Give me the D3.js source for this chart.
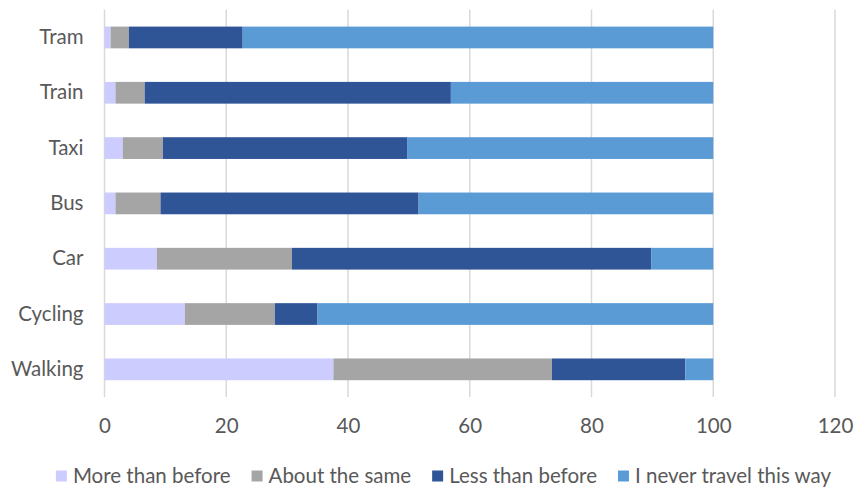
<!DOCTYPE html>
<html>
<head>
<meta charset="utf-8">
<script src="https://cdn.jsdelivr.net/npm/d3@7/dist/d3.min.js"></script>
<style>
  html, body { margin: 0; padding: 0; background: #fff; }
  svg { display: block; }
  text { font-family: Lato, "Noto Sans", sans-serif; fill: #595959; }
</style>
</head>
<body>
<svg id="chart" width="868" height="487"></svg>
<script>
// Travel modes, top to bottom
const categories = ["Tram", "Train", "Taxi", "Bus", "Car", "Cycling", "Walking"];
const seriesNames = ["More than before", "About the same", "Less than before", "I never travel this way"];
const seriesColors = ["#ccccff", "#a5a5a5", "#2f5597", "#5b9bd5"];

// Share of respondents (%) per mode, one array per answer
const moreThanBefore = [1, 1.8, 3, 1.8, 8.6, 13.2, 37.6];
const aboutTheSame   = [3, 4.8, 6.6, 7.4, 22.2, 14.8, 35.9];
const lessThanBefore = [18.7, 50.3, 40.1, 42.4, 59, 7, 21.9];
const neverTravel    = [77.3, 43.1, 50.3, 48.4, 10.2, 65, 4.6];

const xTicks = [0, 20, 40, 60, 80, 100, 120];

const seriesValues = [moreThanBefore, aboutTheSame, lessThanBefore, neverTravel];
const rows = categories.map((c, i) => {
  const r = { category: c };
  seriesNames.forEach((s, k) => { r[s] = seriesValues[k][i]; });
  return r;
});

const svg = d3.select("#chart");
const margin = { left: 104.5, right: 33, top: 9.8, bottom: 90 };
const W = 868, H = 487;
const fontSize = 20.5;

const x = d3.scaleLinear().domain([0, 120]).range([margin.left, W - margin.right]);
const y = d3.scaleBand().domain(categories).range([margin.top, H - margin.bottom]).paddingInner(0.607).paddingOuter(0.3035);

// vertical gridlines
svg.append("g")
  .selectAll("line")
  .data(xTicks)
  .join("line")
  .attr("x1", d => x(d)).attr("x2", d => x(d))
  .attr("y1", margin.top).attr("y2", H - margin.bottom)
  .attr("stroke", "#d9d9d9")
  .attr("stroke-width", 1.5);

// stacked bars
const stacked = d3.stack().keys(seriesNames)(rows);
svg.append("g")
  .selectAll("g")
  .data(stacked)
  .join("g")
  .attr("fill", (d, i) => seriesColors[i])
  .selectAll("rect")
  .data(d => d)
  .join("rect")
  .attr("x", d => x(d[0]))
  .attr("width", d => x(d[1]) - x(d[0]))
  .attr("y", d => y(d.data.category))
  .attr("height", y.bandwidth());

// x axis labels
const xAxis = d3.axisBottom(x).tickValues(xTicks).tickSize(0).tickPadding(0);
const gx = svg.append("g")
  .attr("transform", `translate(0,${H - margin.bottom + 21})`)
  .call(xAxis);
gx.select(".domain").remove();
gx.selectAll("text")
  .attr("font-size", fontSize)
  .attr("dy", "0.71em")
  .style("font-family", "Lato, 'Noto Sans', sans-serif")
  .attr("fill", "#595959");

// y axis labels
const yAxis = d3.axisLeft(y).tickSize(0).tickPadding(21);
const gy = svg.append("g")
  .attr("transform", `translate(${margin.left},0)`)
  .call(yAxis);
gy.select(".domain").remove();
gy.selectAll("text")
  .attr("font-size", fontSize)
  .style("font-family", "Lato, 'Noto Sans', sans-serif")
  .attr("fill", "#595959");

// legend
const legend = svg.append("g").attr("transform", "translate(0,476)");
const items = legend.selectAll("g")
  .data(seriesNames)
  .join("g");
items.append("rect")
  .attr("width", 11).attr("height", 11)
  .attr("y", -5.5)
  .attr("fill", (d, i) => seriesColors[i]);
items.append("text")
  .attr("x", 17)
  .attr("dy", "0.35em")
  .attr("font-size", fontSize)
  .text(d => d);

const widths = [];
items.each(function () {
  widths.push(17 + this.querySelector("text").getComputedTextLength());
});
const gap = 21;
const total = d3.sum(widths) + gap * (widths.length - 1);
let cx = 443.5 - total / 2;
items.attr("transform", (d, i) => {
  const t = `translate(${cx},0)`;
  cx += widths[i] + gap;
  return t;
});
</script>
</body>
</html>
